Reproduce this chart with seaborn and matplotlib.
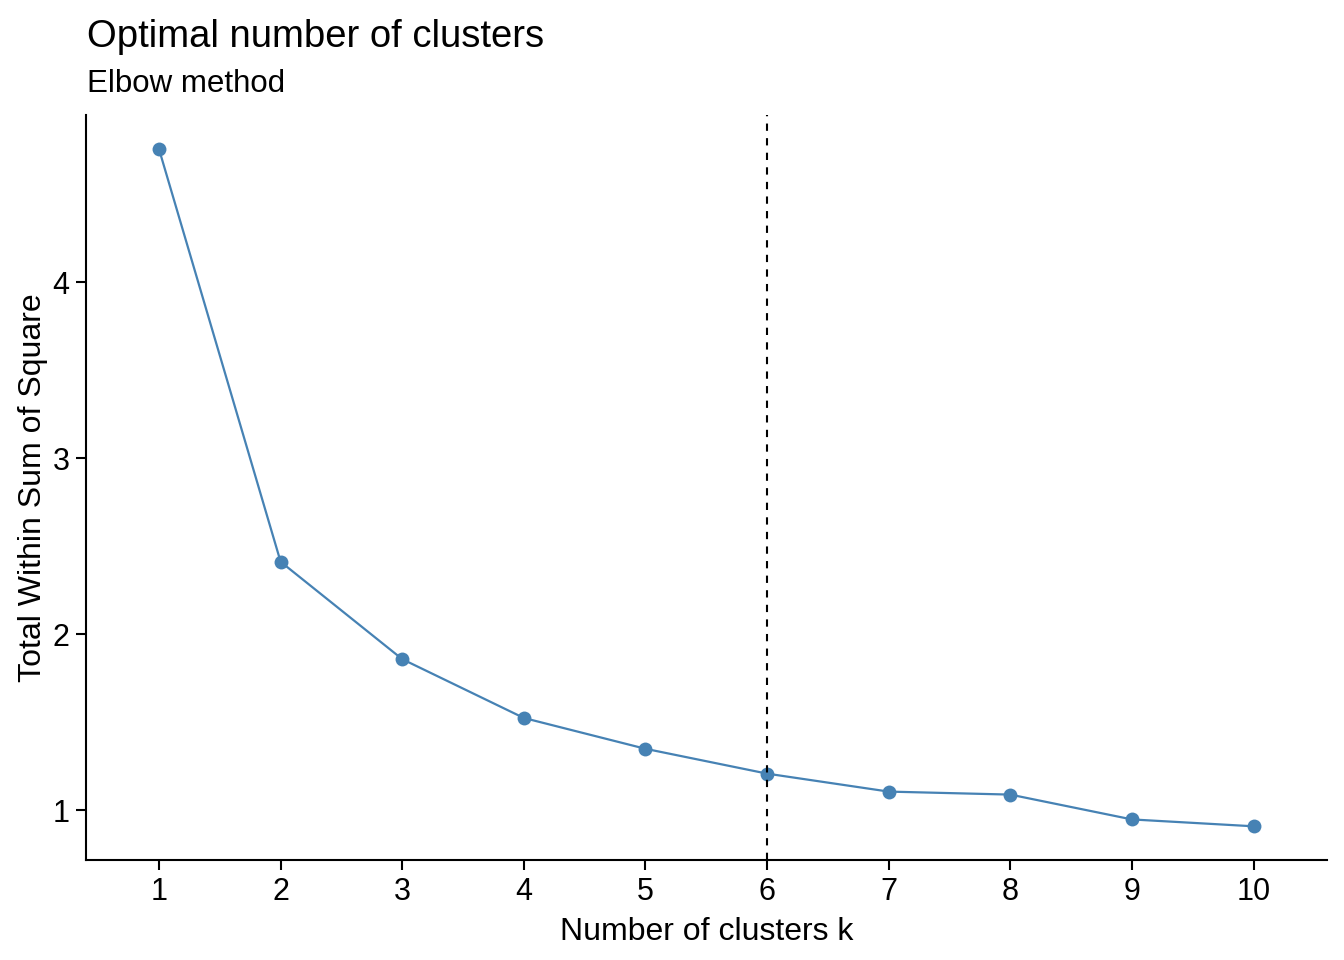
import pandas as pd
import numpy as np
import matplotlib.pyplot as plt
import seaborn as sns

# values
k_values = [1, 2, 3, 4, 5, 6, 7, 8, 9, 10]
wss = [4.755, 2.412, 1.859, 1.525, 1.350, 1.209, 1.107, 1.090, 0.949, 0.910]
optimal_k = 6

df = pd.DataFrame({'k': k_values, 'wss': wss})

sns.set_theme(style="ticks")
plt.rcParams['font.family'] = ['Liberation Sans', 'DejaVu Sans']
plt.rcParams['text.color'] = 'black'

fig = plt.figure(figsize=(13.44, 9.6), dpi=100)
ax = fig.add_axes([0.064, 0.104, 0.923, 0.776])

sns.lineplot(data=df, x='k', y='wss', color='steelblue', linewidth=1.6,
             marker='o', markersize=10, markeredgewidth=0, ax=ax)
ax.axvline(optimal_k, color='black', linestyle=(0, (3.5, 3.5)), linewidth=1.5)

# ggplot-style expansion
ax.set_xlim(0.4, 10.6)
lo, hi = min(wss), max(wss)
pad = (hi - lo) * 0.05
ax.set_ylim(lo - pad, hi + pad)

ax.set_xticks(k_values)
ax.set_xticklabels([str(k) for k in k_values])
ax.set_yticks([1, 2, 3, 4])
ax.set_yticklabels(['1', '2', '3', '4'])

ax.set_xlabel("Number of clusters k", fontsize=23, color='black', labelpad=7)
ax.set_ylabel("Total Within Sum of Square", fontsize=23, color='black', labelpad=3)
ax.tick_params(axis='both', labelsize=22, colors='black', length=7, width=1.5, pad=5)

for side in ['top', 'right']:
    ax.spines[side].set_visible(False)
for side in ['left', 'bottom']:
    ax.spines[side].set_linewidth(1.5)
    ax.spines[side].set_color('black')

fig.text(0.0647, 0.951, "Optimal number of clusters", fontsize=27.5, ha='left', va='baseline', color='black')
fig.text(0.0647, 0.904, "Elbow method", fontsize=22.5, ha='left', va='baseline', color='black')

fig.savefig("out.png", dpi=100)
